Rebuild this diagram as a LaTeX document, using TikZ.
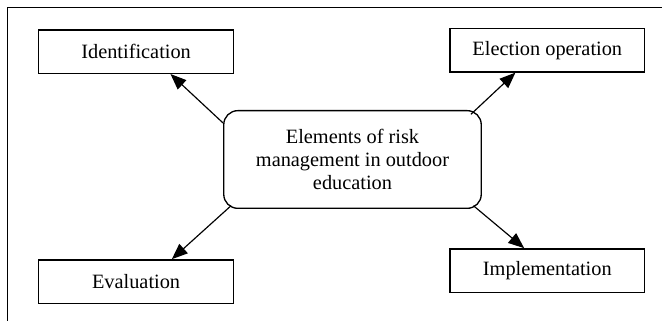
\documentclass[tikz,border=0pt]{standalone}
\usepackage{fontspec}
\setmainfont{Liberation Serif}
\usetikzlibrary{arrows.meta}
\tikzset{>={Triangle[length=9.5pt,width=7.5pt]}}
\tikzset{itembox/.style={draw, line width=0.8pt, minimum width=116.8pt, minimum height=26pt, inner sep=0pt},
  riskbox/.style={draw, line width=0.8pt, rounded corners=8.4pt, minimum width=154.5pt, minimum height=58.6pt, inner sep=0pt, align=center}}

\begin{document}
\begin{tikzpicture}[x=0.6pt, y=-0.6pt, font=\fontsize{12.2}{14}\selectfont]
\useasboundingbox (0,0) rectangle (662,321);
\draw[line width=0.6pt] (7.5,321) -- (7.5,7.3) -- (662,7.3);
\node[riskbox] (risk) at (352.5,159.5) {Elements of risk\\management in outdoor\\education};
\node[itembox] (ident) at (136.1,51.7) {Identification};
\node[itembox] (elect) at (547.3,50.3) {Election operation};
\node[itembox] (eval) at (136.1,281.5) {Evaluation};
\node[itembox] (impl) at (547.3,270.5) {Implementation};
\draw[->, line width=0.7pt] ([shift={(0,13)}]risk.north west) -- (ident.-33);
\draw[->, line width=0.7pt] ([shift={(-11,4.3)}]risk.north east) -- (elect.-145.6);
\draw[->, line width=0.7pt] ([shift={(8,-3.3)}]risk.south west) -- (eval.32.2);
\draw[->, line width=0.7pt] ([shift={(-8.5,-3.3)}]risk.south east) -- (impl.136.9);
\end{tikzpicture}
\end{document}
